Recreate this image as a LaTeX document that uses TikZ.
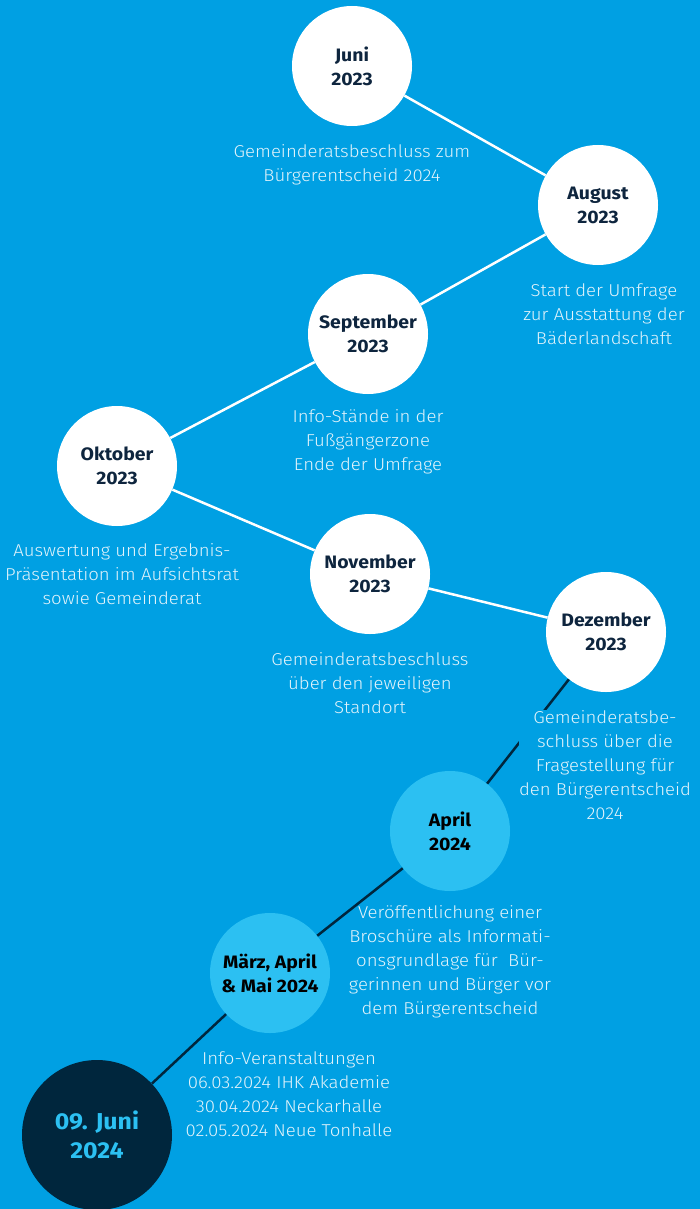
\documentclass[tikz,border=0pt]{standalone}
\usepackage{fontspec}
\setmainfont{Fira Sans}[UprightFont={* Light}, BoldFont={* Bold}, FakeStretch=1.08]
\usetikzlibrary{positioning}

\definecolor{bg}{RGB}{0,160,227}
\definecolor{lightdot}{RGB}{44,192,242}
\definecolor{darkdot}{RGB}{0,38,61}
\definecolor{navy}{RGB}{14,37,62}
\definecolor{desctext}{RGB}{226,243,251}

\tikzset{
	dot/.style={circle, minimum size=120pt, inner sep=0pt, align=center, text=navy,
		font=\fontsize{18}{24}\selectfont\bfseries},
	desc/.style={align=center, inner sep=1pt, text=desctext, font=\fontsize{17.2}{24}\selectfont},
	linkwhite/.style={line width=2.5pt, color=white},
	linkdark/.style={line width=2.5pt, color=darkdot}
}

\begin{document}
\begin{tikzpicture}[x=1pt, y=-1pt]
			%%%%% BACKGROUND %%%%%
			
			\fill[bg] (0, 0) rectangle (700, 1209);
			\useasboundingbox (0, 0) rectangle (700, 1209);
			
			%%%%% CIRCLES %%%%%
			
			\node[dot, fill=white] (juni) at (352, 66) {Juni\\2023};
			\node[dot, fill=white] (august) at (598, 205) {August\\2023};
			\node[dot, fill=white] (september) at (368, 334) {September\\2023};
			\node[dot, fill=white] (oktober) at (117, 466) {Oktober\\2023};
			\node[dot, fill=white] (november) at (370, 574) {November\\2023};
			\node[dot, fill=white] (dezember) at (606, 632) {Dezember\\2023};
			\node[dot, fill=lightdot, text=black] (april) at (450, 831) {April\\2024};
			\node[dot, fill=lightdot, text=black] (maerz) at (270, 973) {März, April\\\& Mai 2024};
			\node[dot, fill=darkdot, text=lightdot, minimum size=150pt,
				font=\fontsize{23}{29}\selectfont\bfseries] (entscheid) at (97, 1135) {09. Juni\\2024};
			
			%%%%% LINKS %%%%%
			
			\draw[linkwhite] (juni) -- (august);
			\draw[linkwhite] (august) -- (september);
			\draw[linkwhite] (september) -- (oktober);
			\draw[linkwhite] (oktober) -- (november);
			\draw[linkwhite] (november) -- (dezember);
			\draw[linkdark] (dezember) -- (april);
			\draw[linkdark] (april) -- (maerz);
			\draw[linkdark] (maerz) -- (entscheid);
			
			%%%%% TEXTS %%%%%
			
			\node[desc] (juniText) at (352, 165) {Gemeinderatsbeschluss zum\\Bürgerentscheid 2024};
			\node[desc] (augustText) at (604, 314) {Start der Umfrage\\zur Ausstattung der\\Bäderlandschaft};
			\node[desc] (septemberText) at (368, 442) {Info-Stände in der\\Fußgängerzone\\Ende der Umfrage};
			\node[desc] (oktoberText) at (122, 574) {Auswertung und Ergebnis-\\Präsentation im Aufsichtsrat\\sowie Gemeinderat};
			\node[desc] (novemberText) at (370, 683) {Gemeinderatsbeschluss\\über den jeweiligen\\Standort};
			\node[desc, fill=bg, inner sep=0pt] (dezemberText) at (605, 765) {Gemeinderatsbe-\\schluss über die\\Fragestellung für\\den Bürgerentscheid\\2024};
			\node[desc] (aprilText) at (450, 962) {Veröffentlichung einer\\Broschüre als Informati-\\onsgrundlage für\ \ Bür-\\gerinnen und Bürger vor\\dem Bürgerentscheid};
			\node[desc] (maerzText) at (289, 1094) {Info-Veranstaltungen\\06.03.2024 IHK Akademie\\30.04.2024 Neckarhalle\\02.05.2024 Neue Tonhalle};
			
		\end{tikzpicture}
\end{document}
